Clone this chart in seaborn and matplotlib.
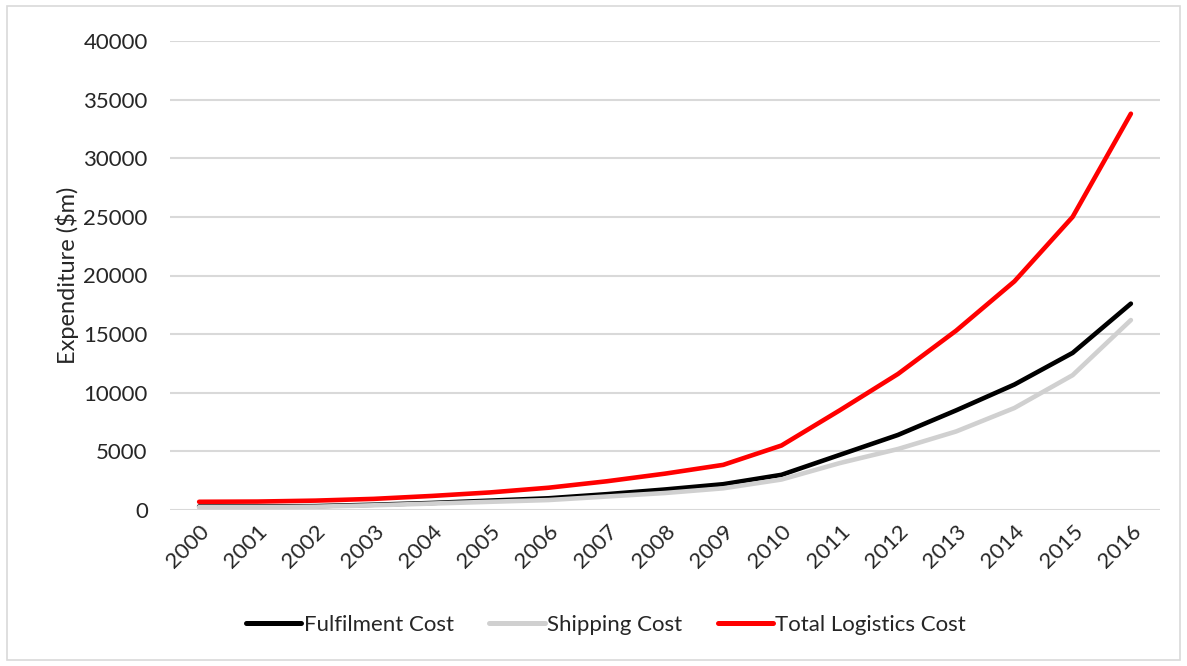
import matplotlib
matplotlib.use("Agg")
import matplotlib.pyplot as plt
import seaborn as sns
import pandas as pd
from matplotlib.patches import Rectangle

years = list(range(2000, 2017))
fulfilment = [300, 300, 330, 450, 600, 800, 1000, 1350, 1750, 2200, 3000, 4700, 6400, 8500, 10700, 13400, 17600]
shipping = [250, 250, 280, 400, 550, 700, 850, 1150, 1450, 1850, 2600, 4000, 5200, 6700, 8700, 11500, 16200]
total = [700, 720, 800, 950, 1200, 1500, 1900, 2450, 3100, 3850, 5500, 8500, 11600, 15300, 19500, 25000, 33800]
series_names = ["Fulfilment Cost", "Shipping Cost", "Total Logistics Cost"]
colors = ["#000000", "#d0d0d0", "#ff0000"]
y_ticks = [0, 5000, 10000, 15000, 20000, 25000, 30000, 35000, 40000]

df = pd.concat([
    pd.DataFrame({"Year": years, "Value": vals, "Series": name})
    for name, vals in zip(series_names, [fulfilment, shipping, total])
])

sns.set_theme(style="white")
plt.rcParams["font.family"] = ["Lato", "DejaVu Sans"]

fs = 16
fig = plt.figure(figsize=(11.87, 6.66), dpi=100)
ax = fig.add_axes([170/1187, 1-510/666, 990/1187, 469/666])

sns.lineplot(data=df, x="Year", y="Value", hue="Series", hue_order=series_names,
             palette=colors, linewidth=3.3, ax=ax, legend=True)
for ln in ax.lines:
    ln.set_solid_capstyle("round")
    ln.set_solid_joinstyle("round")

ax.set_xlim(1999.5, 2016.5)
ax.set_ylim(0, 40000)
ax.set_yticks(y_ticks)
ax.set_yticklabels([str(v) for v in y_ticks], fontsize=fs)
ax.set_xticks(years)
ax.set_xticklabels([str(y) for y in years], rotation=45, ha="right",
                   rotation_mode="anchor", fontsize=fs)
ax.tick_params(axis="y", pad=16, length=0)
ax.tick_params(axis="x", pad=8, length=0)
ax.grid(axis="y", color="#d9d9d9", linewidth=1.5)
ax.set_axisbelow(True)
for s in ax.spines.values():
    s.set_visible(False)
ax.set_xlabel("")
ax.set_ylabel("Expenditure ($m)", fontsize=17, labelpad=3)

handles, labels = ax.get_legend_handles_labels()
ax.get_legend().remove()
leg = fig.legend(handles, labels, loc="center", bbox_to_anchor=(606/1187, 1-625/666),
                 ncol=3, frameon=False, fontsize=fs, handlelength=2.5,
                 handletextpad=0.1, columnspacing=1.6)
for h in leg.get_lines():
    h.set_linewidth(3.6)

fig.patches.append(Rectangle((7/1187, 6/666), 1 - 14/1187, 1 - 12/666,
                             transform=fig.transFigure, fill=False,
                             edgecolor="#d9d9d9", linewidth=1.2))

fig.savefig("out.png", dpi=100, facecolor="white")
